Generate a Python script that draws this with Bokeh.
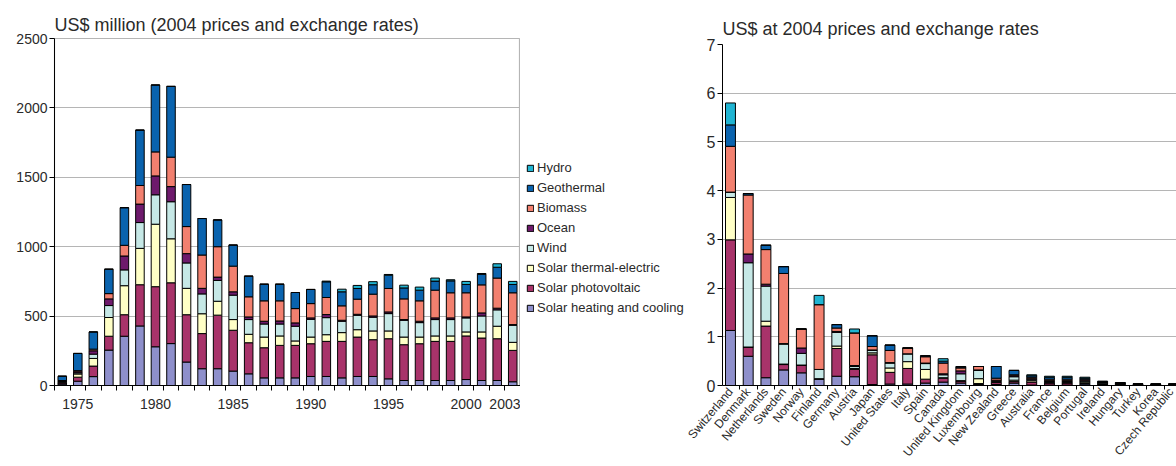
import numpy as np
from bokeh.plotting import figure
from bokeh.models import ColumnDataSource, FixedTicker, Range1d, Legend, LegendItem
from bokeh.layouts import row
from bokeh.embed import file_html
from bokeh.resources import INLINE

# ---------------- data: left chart (US$ million) ----------------
years = list(range(1974, 2004))
heating = [10, 31, 64, 255, 355, 429, 279, 302, 169, 121, 121, 104, 84, 55, 55, 55, 65, 65, 55, 65, 65, 48, 36, 36, 36, 36, 43, 36, 36, 27]
pv = [8, 29, 76, 100, 155, 297, 433, 438, 341, 253, 386, 294, 224, 217, 234, 234, 236, 253, 263, 284, 265, 289, 258, 265, 282, 282, 314, 306, 301, 226]
thermal = [5, 23, 55, 135, 209, 262, 450, 317, 190, 143, 100, 77, 61, 77, 68, 32, 48, 48, 63, 53, 63, 56, 55, 48, 39, 39, 29, 44, 90, 58]
wind = [5, 8, 31, 86, 114, 186, 212, 267, 183, 143, 150, 176, 106, 94, 86, 106, 128, 123, 82, 104, 99, 125, 121, 104, 118, 118, 101, 115, 118, 123]
ocean = [4, 8, 24, 48, 100, 133, 136, 109, 67, 40, 24, 24, 19, 20, 22, 24, 10, 22, 7, 7, 9, 12, 5, 10, 12, 12, 7, 22, 12, 5]
biomass = [4, 8, 12, 38, 77, 134, 173, 212, 195, 240, 219, 185, 145, 147, 145, 103, 103, 123, 104, 109, 157, 169, 149, 147, 200, 181, 174, 202, 217, 229]
geo = [31, 124, 124, 176, 271, 399, 482, 510, 303, 263, 193, 152, 149, 120, 120, 116, 102, 113, 101, 77, 68, 96, 79, 77, 65, 86, 60, 76, 78, 60]
hydro = [0, 0, 0, 0, 0, 0, 0, 0, 0, 0, 0, 0, 0, 0, 0, 0, 0, 5, 19, 22, 22, 5, 20, 22, 22, 8, 22, 6, 25, 22]
year_labels = [1975, 1980, 1985, 1990, 1995, 2000, 2003]

# ---------------- data: right chart (US$ per capita) ----------------
countries = ["Switzerland", "Denmark", "Netherlands", "Sweden", "Norway", "Finland", "Germany", "Austria",
             "Japan", "United States", "Italy", "Spain", "Canada", "United Kingdom", "Luxembourg",
             "New Zealand", "Greece", "Australia", "France", "Belgium", "Portugal", "Ireland", "Hungary",
             "Turkey", "Korea", "Czech Republic"]
c_heating = [1.13, 0.60, 0.16, 0.32, 0.26, 0.13, 0.19, 0.18, 0.02, 0.03, 0.03, 0.05, 0.07, 0.05, 0.02, 0.02, 0.05, 0.01, 0.01, 0.01, 0.03, 0.01, 0.01, 0.005, 0.005, 0.005]
c_pv = [1.86, 0.19, 1.06, 0.11, 0.16, 0.01, 0.57, 0.15, 0.61, 0.24, 0.32, 0.08, 0.08, 0.04, 0.02, 0.04, 0.03, 0.06, 0.04, 0.04, 0.01, 0.01, 0.01, 0.005, 0.005, 0.005]
c_thermal = [0.87, 0.0, 0.10, 0.01, 0.0, 0.0, 0.05, 0.02, 0.04, 0.09, 0.14, 0.20, 0.01, 0.01, 0.10, 0.02, 0.03, 0.03, 0.01, 0.01, 0.03, 0.01, 0.01, 0.005, 0.005, 0.005]
c_wind = [0.11, 1.73, 0.72, 0.41, 0.24, 0.19, 0.28, 0.04, 0.05, 0.10, 0.16, 0.12, 0.06, 0.14, 0.17, 0.02, 0.07, 0.03, 0.02, 0.02, 0.02, 0.02, 0.01, 0.005, 0.005, 0.005]
c_ocean = [0.0, 0.18, 0.04, 0.01, 0.11, 0.0, 0.02, 0.02, 0.01, 0.01, 0.0, 0.01, 0.02, 0.06, 0.01, 0.01, 0.02, 0.01, 0.02, 0.02, 0.02, 0.01, 0.005, 0.005, 0.005, 0.005]
c_biomass = [0.94, 1.21, 0.71, 1.44, 0.39, 1.33, 0.07, 0.67, 0.07, 0.25, 0.12, 0.13, 0.22, 0.06, 0.07, 0.04, 0.02, 0.03, 0.03, 0.03, 0.02, 0.01, 0.005, 0.005, 0.005, 0.005]
c_geo = [0.44, 0.03, 0.09, 0.14, 0.0, 0.0, 0.07, 0.0, 0.22, 0.11, 0.0, 0.02, 0.04, 0.02, 0.0, 0.24, 0.09, 0.03, 0.04, 0.04, 0.02, 0.01, 0.005, 0.005, 0.0, 0.0]
c_hydro = [0.45, 0, 0, 0, 0, 0.19, 0, 0.08, 0, 0, 0, 0, 0.05, 0.01, 0, 0, 0, 0.02, 0.02, 0.02, 0.02, 0.01, 0.005, 0.0, 0.0, 0.0]

series_names = ["Solar heating and cooling", "Solar photovoltaic", "Solar thermal-electric", "Wind",
                "Ocean", "Biomass", "Geothermal", "Hydro"]
colors = ["#8E8FCB", "#A8336A", "#FFFFC6", "#C6E8E6", "#6E1A6C", "#F2806F", "#0A63AE", "#20B4D2"]

FONT = "Liberation Sans"
TXT = "#2a2a2a"
GRID = "#b5b5b5"
H = 466


def no_align(p):
    try:
        p.frame_align = False
    except Exception:
        pass


# ---------------- left figure ----------------
keys = ["s%d" % i for i in range(8)]
left_src = ColumnDataSource(dict(year=years, **dict(zip(keys, [heating, pv, thermal, wind, ocean, biomass, geo, hydro]))))

p1 = figure(width=520, height=H, output_backend="svg", toolbar_location=None,
            x_range=Range1d(1973.5, 2003.5), y_range=Range1d(0, 2500),
            min_border_left=54, min_border_right=0, min_border_top=38, min_border_bottom=81,
            title="US$ million (2004 prices and exchange rates)")
no_align(p1)
p1.title.text_font = FONT
p1.title.text_font_size = "18px"
p1.title.text_font_style = "normal"
p1.title.text_color = TXT
p1.title.align = "left"
p1.title.offset = 0
p1.title.standoff = 8

p1.vbar_stack(keys, x="year", width=0.55, source=left_src, fill_color=colors,
              line_color="black", line_width=1)

p1.xgrid.grid_line_color = None
p1.ygrid.grid_line_color = GRID
p1.ygrid.grid_line_width = 1.2
p1.outline_line_color = GRID
p1.outline_line_width = 1.2

p1.yaxis.ticker = FixedTicker(ticks=[0, 500, 1000, 1500, 2000, 2500])
p1.yaxis.minor_tick_line_color = None
p1.yaxis.major_tick_out = 5
p1.yaxis.major_tick_in = 0
p1.yaxis.major_label_standoff = 2
for ax in (p1.xaxis[0], p1.yaxis[0]):
    ax.axis_line_color = "black"
    ax.major_tick_line_color = "black"
    ax.major_label_text_font = FONT
    ax.major_label_text_font_size = "14px"
    ax.major_label_text_color = TXT

p1.xaxis.ticker = FixedTicker(ticks=year_labels, minor_ticks=[y - 0.5 for y in years] + [years[-1] + 0.5])
p1.xaxis.major_tick_out = 0
p1.xaxis.major_tick_in = 0
p1.xaxis.minor_tick_out = 5
p1.xaxis.minor_tick_in = 0
p1.xaxis.minor_tick_line_color = "black"
p1.xaxis.major_label_standoff = 8

# ---------------- legend figure ----------------
p3 = figure(width=164, height=H, output_backend="svg", toolbar_location=None,
            x_range=Range1d(0, 1), y_range=Range1d(0, 1), min_border=0)
no_align(p3)
p3.axis.visible = False
p3.grid.grid_line_color = None
p3.outline_line_color = None
# hidden placeholder renderers that only supply the legend swatches
dummies = [p3.vbar(x=[0.5], top=[1], width=0.5, fill_color=c, line_color="black", line_width=1,
                   visible=False) for c in colors]
items = [LegendItem(label=n, renderers=[r]) for n, r in zip(series_names, dummies)][::-1]
legend = Legend(items=items, location=(6, 151), label_text_font=FONT, label_text_font_size="13px",
                label_text_color=TXT, glyph_width=8, glyph_height=8, label_height=14, spacing=5,
                label_standoff=3, padding=0, margin=0, border_line_color=None,
                background_fill_alpha=0, inactive_fill_alpha=0)
p3.add_layout(legend)

# ---------------- right figure ----------------
idx = list(range(len(countries)))
right_src = ColumnDataSource(dict(idx=idx, **dict(zip(keys, [c_heating, c_pv, c_thermal, c_wind, c_ocean, c_biomass, c_geo, c_hydro]))))

p2 = figure(width=492, height=H, output_backend="svg", toolbar_location=None,
            x_range=Range1d(-0.45, len(countries) - 0.83), y_range=Range1d(0, 7),
            min_border_left=38, min_border_right=0, min_border_top=44, min_border_bottom=81,
            title="US$ at 2004 prices and exchange rates")
no_align(p2)
p2.title.text_font = FONT
p2.title.text_font_size = "18px"
p2.title.text_font_style = "normal"
p2.title.text_color = TXT
p2.title.align = "left"
p2.title.offset = 0
p2.title.standoff = 11

p2.vbar_stack(keys, x="idx", width=0.56, source=right_src, fill_color=colors,
              line_color="black", line_width=1)

p2.xgrid.grid_line_color = None
p2.ygrid.grid_line_color = GRID
p2.ygrid.grid_line_width = 1.2
p2.outline_line_color = None

p2.yaxis.ticker = FixedTicker(ticks=list(range(0, 8)))
p2.yaxis.minor_tick_line_color = None
p2.yaxis.major_tick_out = 5
p2.yaxis.major_tick_in = 0
p2.yaxis.major_label_standoff = 2
for ax in (p2.xaxis[0], p2.yaxis[0]):
    ax.axis_line_color = "black"
    ax.major_tick_line_color = "black"
    ax.major_label_text_font = FONT
    ax.major_label_text_color = TXT
p2.yaxis.major_label_text_font_size = "16px"

p2.xaxis.ticker = FixedTicker(ticks=idx, minor_ticks=[i - 0.5 for i in idx] + [idx[-1] + 0.5])
p2.xaxis.major_label_overrides = {i: c for i, c in zip(idx, countries)}
p2.xaxis.major_label_orientation = 0.87
p2.xaxis.major_label_text_font_size = "12px"
p2.xaxis.major_tick_out = 0
p2.xaxis.major_tick_in = 0
p2.xaxis.minor_tick_out = 4
p2.xaxis.minor_tick_in = 0
p2.xaxis.minor_tick_line_color = "black"
p2.xaxis.major_label_standoff = 0

layout = row(p1, p3, p2, spacing=0)
open("out.html", "w").write(file_html(layout, INLINE))
